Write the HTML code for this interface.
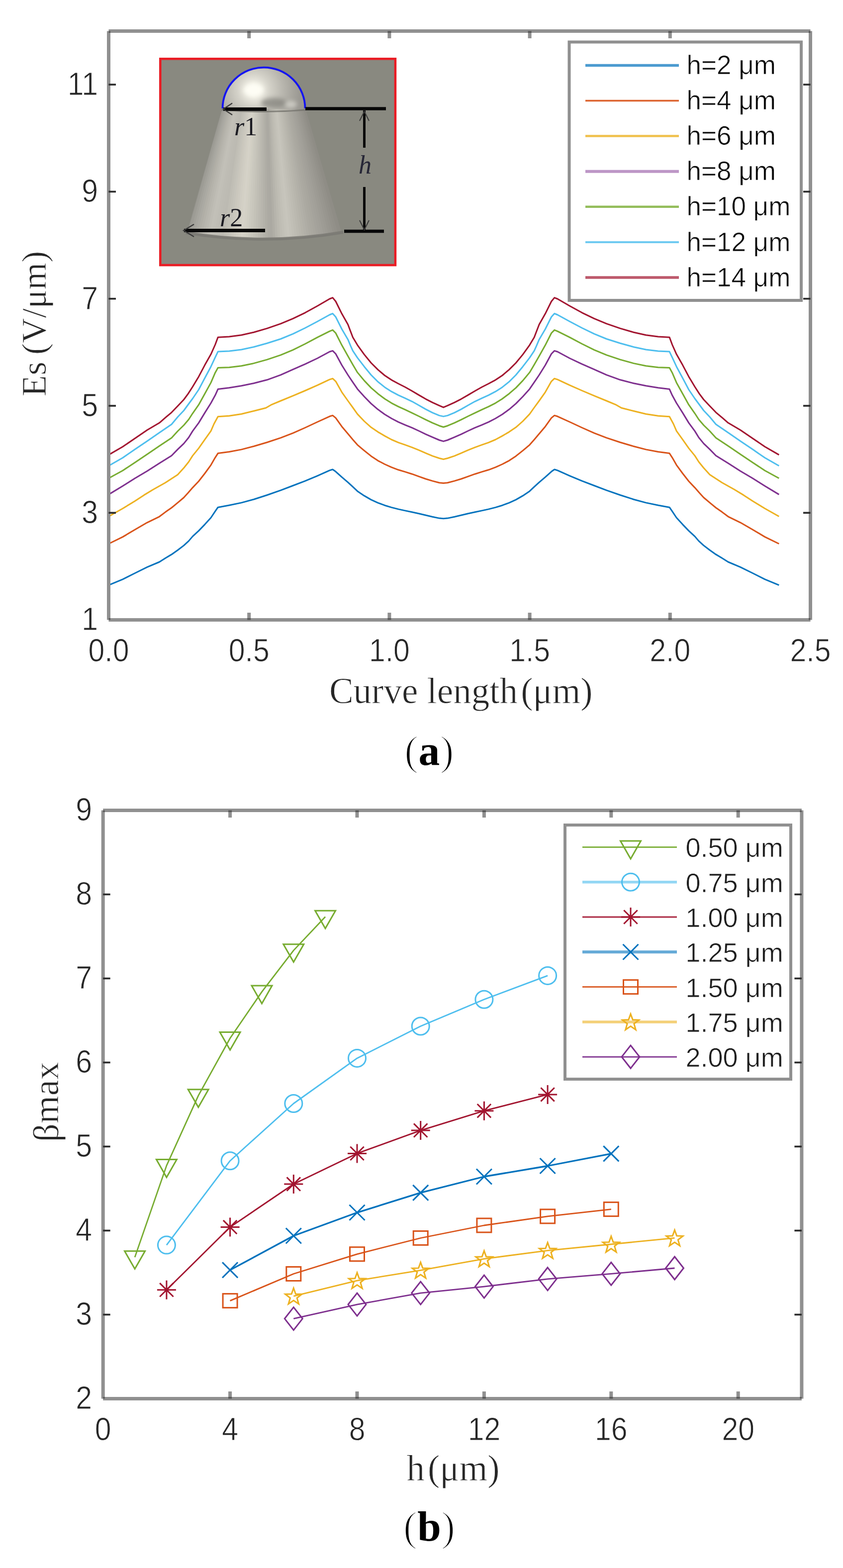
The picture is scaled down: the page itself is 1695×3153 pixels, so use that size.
<!DOCTYPE html>
<html><head><meta charset="utf-8"><title>Figure</title>
<style>html,body{margin:0;padding:0;background:#fff;overflow:hidden;}svg{display:block;}</style>
</head><body>
<svg width="1695" height="3153" viewBox="0 0 1695 3153">
<defs>
<clipPath id="coneclip"><path d="M446.5,219 L614.5,219 L692,466 Q532,492 372,466 Z"/></clipPath>
<filter id="blur3" x="-50%" y="-50%" width="200%" height="200%"><feGaussianBlur stdDeviation="4"/></filter>
<radialGradient id="domeg" cx="510" cy="181" r="95" gradientUnits="userSpaceOnUse">
<stop offset="0" stop-color="#fdfcf4"/>
<stop offset="0.14" stop-color="#f0eee4"/>
<stop offset="0.35" stop-color="#d3d1c8"/>
<stop offset="0.6" stop-color="#bab8b0"/>
<stop offset="0.85" stop-color="#a5a39c"/>
<stop offset="1" stop-color="#9a9892"/>
</radialGradient>
</defs>
<rect width="1695" height="3153" fill="#fff"/>
<rect x="322.3" y="118.3" width="472.6" height="414.8" fill="#898980" stroke="#ea1c24" stroke-width="4.6"/>
<g clip-path="url(#coneclip)">
<path d="M446.5,219 L450.7,219 L379,486 L371,486 Z" fill="#989790"/>
<path d="M447.6,219 L453.3,219 L384,486 L373,486 Z" fill="#9d9c95"/>
<path d="M450.2,219 L455.9,219 L389.1,486 L378,486 Z" fill="#a2a19a"/>
<path d="M452.8,219 L458.6,219 L394.1,486 L383,486 Z" fill="#a7a69f"/>
<path d="M455.4,219 L461.2,219 L399.1,486 L388.1,486 Z" fill="#abaaa3"/>
<path d="M458.1,219 L463.8,219 L404.1,486 L393.1,486 Z" fill="#b0aea6"/>
<path d="M460.7,219 L466.4,219 L409.1,486 L398.1,486 Z" fill="#b4b2aa"/>
<path d="M463.3,219 L469.1,219 L414.1,486 L403.1,486 Z" fill="#b8b6ae"/>
<path d="M465.9,219 L471.7,219 L419.1,486 L408.1,486 Z" fill="#bbb9b1"/>
<path d="M468.6,219 L474.3,219 L424.2,486 L413.1,486 Z" fill="#bfbdb5"/>
<path d="M471.2,219 L476.9,219 L429.2,486 L418.1,486 Z" fill="#c2c0b8"/>
<path d="M473.8,219 L479.6,219 L434.2,486 L423.2,486 Z" fill="#c1bfb7"/>
<path d="M476.4,219 L482.2,219 L439.2,486 L428.2,486 Z" fill="#bfbdb5"/>
<path d="M479.1,219 L484.8,219 L444.2,486 L433.2,486 Z" fill="#bebcb4"/>
<path d="M481.7,219 L487.4,219 L449.2,486 L438.2,486 Z" fill="#bdbbb3"/>
<path d="M484.3,219 L490.1,219 L454.3,486 L443.2,486 Z" fill="#bcbab2"/>
<path d="M486.9,219 L492.7,219 L459.3,486 L448.2,486 Z" fill="#c0beb5"/>
<path d="M489.6,219 L495.3,219 L464.3,486 L453.3,486 Z" fill="#c3c1b8"/>
<path d="M492.2,219 L497.9,219 L469.3,486 L458.3,486 Z" fill="#c6c4bb"/>
<path d="M494.8,219 L500.6,219 L474.3,486 L463.3,486 Z" fill="#cac7bd"/>
<path d="M497.4,219 L503.2,219 L479.3,486 L468.3,486 Z" fill="#cdcac0"/>
<path d="M500.1,219 L505.8,219 L484.4,486 L473.3,486 Z" fill="#d0cdc3"/>
<path d="M502.7,219 L508.4,219 L489.4,486 L478.3,486 Z" fill="#d3d0c5"/>
<path d="M505.3,219 L511.1,219 L494.4,486 L483.4,486 Z" fill="#d5d2c8"/>
<path d="M507.9,219 L513.7,219 L499.4,486 L488.4,486 Z" fill="#d3d0c5"/>
<path d="M510.6,219 L516.3,219 L504.4,486 L493.4,486 Z" fill="#cfcdc2"/>
<path d="M513.2,219 L519,219 L509.4,486 L498.4,486 Z" fill="#cbc9bf"/>
<path d="M515.8,219 L521.6,219 L514.4,486 L503.4,486 Z" fill="#c8c6bc"/>
<path d="M518.4,219 L524.2,219 L519.5,486 L508.4,486 Z" fill="#c4c2b8"/>
<path d="M521,219 L526.8,219 L524.5,486 L513.4,486 Z" fill="#c0beb5"/>
<path d="M523.7,219 L529.5,219 L529.5,486 L518.5,486 Z" fill="#bcbab1"/>
<path d="M526.3,219 L532.1,219 L534.5,486 L523.5,486 Z" fill="#b8b6ae"/>
<path d="M528.9,219 L534.7,219 L539.5,486 L528.5,486 Z" fill="#b4b2aa"/>
<path d="M531.5,219 L537.3,219 L544.5,486 L533.5,486 Z" fill="#b0aea6"/>
<path d="M534.2,219 L540,219 L549.6,486 L538.5,486 Z" fill="#acaaa3"/>
<path d="M536.8,219 L542.6,219 L554.6,486 L543.5,486 Z" fill="#aba9a2"/>
<path d="M539.4,219 L545.2,219 L559.6,486 L548.6,486 Z" fill="#b0aea6"/>
<path d="M542,219 L547.8,219 L564.6,486 L553.6,486 Z" fill="#b6b4ac"/>
<path d="M544.7,219 L550.5,219 L569.6,486 L558.6,486 Z" fill="#bbb9b0"/>
<path d="M547.3,219 L553.1,219 L574.6,486 L563.6,486 Z" fill="#bfbdb4"/>
<path d="M549.9,219 L555.7,219 L579.6,486 L568.6,486 Z" fill="#c2c0b7"/>
<path d="M552.5,219 L558.3,219 L584.7,486 L573.6,486 Z" fill="#c5c3ba"/>
<path d="M555.2,219 L561,219 L589.7,486 L578.6,486 Z" fill="#c7c5bc"/>
<path d="M557.8,219 L563.6,219 L594.7,486 L583.7,486 Z" fill="#c4c2b9"/>
<path d="M560.4,219 L566.2,219 L599.7,486 L588.7,486 Z" fill="#c1bfb6"/>
<path d="M563,219 L568.8,219 L604.7,486 L593.7,486 Z" fill="#bebcb3"/>
<path d="M565.7,219 L571.5,219 L609.7,486 L598.7,486 Z" fill="#bbb9b0"/>
<path d="M568.3,219 L574.1,219 L614.8,486 L603.7,486 Z" fill="#b8b6ad"/>
<path d="M570.9,219 L576.7,219 L619.8,486 L608.7,486 Z" fill="#b5b3aa"/>
<path d="M573.5,219 L579.3,219 L624.8,486 L613.8,486 Z" fill="#b2b0a8"/>
<path d="M576.2,219 L582,219 L629.8,486 L618.8,486 Z" fill="#afada5"/>
<path d="M578.8,219 L584.6,219 L634.8,486 L623.8,486 Z" fill="#acaaa2"/>
<path d="M581.4,219 L587.2,219 L639.8,486 L628.8,486 Z" fill="#aaa8a0"/>
<path d="M584,219 L589.8,219 L644.9,486 L633.8,486 Z" fill="#a8a69e"/>
<path d="M586.7,219 L592.5,219 L649.9,486 L638.8,486 Z" fill="#a5a39c"/>
<path d="M589.3,219 L595.1,219 L654.9,486 L643.8,486 Z" fill="#a3a19a"/>
<path d="M591.9,219 L597.7,219 L659.9,486 L648.9,486 Z" fill="#a19f98"/>
<path d="M594.5,219 L600.3,219 L664.9,486 L653.9,486 Z" fill="#9e9c95"/>
<path d="M597.2,219 L603,219 L669.9,486 L658.9,486 Z" fill="#9c9a93"/>
<path d="M599.8,219 L605.6,219 L674.9,486 L663.9,486 Z" fill="#999790"/>
<path d="M602.4,219 L608.2,219 L680,486 L668.9,486 Z" fill="#97958e"/>
<path d="M605,219 L610.8,219 L685,486 L673.9,486 Z" fill="#94928b"/>
<path d="M607.7,219 L613.5,219 L690,486 L679,486 Z" fill="#929089"/>
<path d="M610.3,219 L614.5,219 L692,486 L684,486 Z" fill="#8f8d86"/>
</g>
<path d="M374,468 Q532,494 690,467" fill="none" stroke="#7a7973" stroke-width="6" opacity="0.85"/>
<path d="M446,221 Q530,228 615,221" fill="none" stroke="#74736d" stroke-width="3" opacity="0.8"/>
<path d="M446.5,219 A84,82.5 0 0 1 614.5,219 Z" fill="url(#domeg)"/>
<ellipse cx="551" cy="207" rx="26" ry="10" fill="#85847e" opacity="0.75" filter="url(#blur3)"/>
<ellipse cx="585" cy="210" rx="12" ry="7" fill="#dcdad3" opacity="0.7" filter="url(#blur3)"/>
<ellipse cx="510" cy="181" rx="20" ry="13" fill="#fffef6" opacity="0.9" filter="url(#blur3)"/>
<path d="M447.5,218 A83,82.5 0 0 1 613.5,218" fill="none" stroke="#1414f2" stroke-width="3.8"/>
<line x1="614" y1="218.5" x2="776" y2="218.5" stroke="#080808" stroke-width="6.5"/>
<line x1="692" y1="465" x2="772" y2="465" stroke="#080808" stroke-width="6.5"/>
<line x1="449" y1="219.5" x2="536" y2="219.5" stroke="#080808" stroke-width="7"/>
<path d="M467,207.5 L449,219.3 L467,231" fill="none" stroke="#3a3a3a" stroke-width="2.2"/>
<line x1="370" y1="463.5" x2="533" y2="463.5" stroke="#080808" stroke-width="7"/>
<path d="M390,451 L369,463.5 L390,476" fill="none" stroke="#3a3a3a" stroke-width="2.2"/>
<line x1="732.5" y1="222" x2="732.5" y2="297" stroke="#080808" stroke-width="5"/>
<line x1="732.5" y1="376" x2="732.5" y2="462" stroke="#080808" stroke-width="5"/>
<path d="M723,243 L732.5,224 L742,243" fill="none" stroke="#3a3a3a" stroke-width="2"/>
<path d="M723,443 L732.5,462 L742,443" fill="none" stroke="#3a3a3a" stroke-width="2"/>
<text x="471" y="271.5" font-family="'Liberation Serif', 'Times New Roman', serif" font-size="52" fill="#1b1b22"><tspan font-style="italic">r</tspan>1</text>
<text x="442" y="455" font-family="'Liberation Serif', 'Times New Roman', serif" font-size="52" fill="#1b1b22"><tspan font-style="italic">r</tspan>2</text>
<text x="721" y="348.5" font-family="'Liberation Serif', 'Times New Roman', serif" font-style="italic" font-size="52" fill="#262636">h</text>
<polyline points="218.5,1176.6 246.8,1164.9 271.4,1152.5 295.9,1140.3 320.5,1130 332.7,1122.3 345,1114.9 357.3,1106.3 369.6,1096.9 379.4,1087.9 387.3,1078.6 399.5,1067.4 411.8,1054.6 424.1,1041 432.7,1028.2 438.2,1020.2 460.9,1016 485.5,1010.9 510,1004.2 537,995.5 564.5,985.8 589.1,976.5 613.6,967.1 638.2,956.8 662.7,945.9 668.9,944 675,948.3 687.3,959.4 699.6,969.8 709.4,978.9 718.7,987.7 732.4,996.9 746.2,1004.9 759.9,1011.1 773.6,1016.2 787.3,1020.4 801,1023.9 814.8,1026.9 828.5,1029.8 842.2,1032.7 855.9,1036 869.6,1039.2 883.4,1042.1 891.6,1042.8 899.8,1042.1 913.7,1039.2 927.4,1036 941.1,1032.7 954.9,1029.8 968.6,1026.9 982.4,1023.9 996.2,1020.4 1009.9,1016.2 1023.6,1011.1 1037.3,1004.9 1051.2,996.9 1064.9,987.7 1074.2,978.9 1084.1,969.8 1096.4,959.4 1108.7,948.3 1114.8,944 1121,945.9 1145.6,956.8 1170.3,967.1 1194.8,976.5 1219.5,985.8 1247.1,995.5 1274.1,1004.2 1298.7,1010.9 1323.3,1016 1346.1,1020.2 1351.6,1028.2 1360.2,1041 1372.6,1054.6 1384.9,1067.4 1397.1,1078.6 1405,1087.9 1414.9,1096.9 1427.2,1106.3 1439.5,1114.9 1451.8,1122.3 1464.1,1130 1488.7,1140.3 1513.3,1152.5 1537.9,1164.9 1566.3,1176.6" fill="none" stroke="#0072BD" stroke-width="3" stroke-linejoin="round"/>
<polyline points="218.5,1093.5 246.8,1079.6 271.4,1065 295.9,1050.8 320.5,1038.8 332.7,1029.6 345,1021 357.3,1010.9 369.6,1000.5 378.2,991.1 387.3,980.6 399.5,967.7 411.8,952 424.1,935.1 432.7,920.1 438.2,911.6 460.9,908.5 485.5,903.9 510,897.5 537,889.5 564.5,880.4 589.1,870.9 613.6,860 638.2,848.5 662.7,837.3 668.9,835.4 675,840.3 687.3,857.7 699.6,872.3 709.4,884 718.7,894.6 732.4,906.1 746.2,917.2 759.9,926.3 773.6,933.5 787.3,939.7 801,944.8 814.8,948.9 828.5,953.2 842.2,958.2 855.9,963 869.6,967.1 883.4,970.7 891.6,971.4 899.8,970.7 913.7,967.1 927.4,963 941.1,958.2 954.9,953.2 968.6,948.9 982.4,944.8 996.2,939.7 1009.9,933.5 1023.6,926.3 1037.3,917.2 1051.2,906.1 1064.9,894.6 1074.2,884 1084.1,872.3 1096.4,857.7 1108.7,840.3 1114.8,835.4 1121,837.3 1145.6,848.5 1170.3,860 1194.8,870.9 1219.5,880.4 1247.1,889.5 1274.1,897.5 1298.7,903.9 1323.3,908.5 1346.1,911.6 1351.6,920.1 1360.2,935.1 1372.6,952 1384.9,967.7 1397.1,980.6 1406.2,991.1 1414.9,1000.5 1427.2,1010.9 1439.5,1021 1451.8,1029.6 1464.1,1038.8 1488.7,1050.8 1513.3,1065 1537.9,1079.6 1566.3,1093.5" fill="none" stroke="#D95319" stroke-width="3" stroke-linejoin="round"/>
<polyline points="218.5,1038.5 246.8,1022.5 271.4,1007.5 289.8,995.4 308.2,984.3 332.7,970.5 357.3,954.6 370,940.5 379.4,928.7 387.3,916.4 399.5,901.4 411.8,883.9 424.1,866.7 430.2,852.5 438.2,837.8 460.9,836.3 485.5,832.5 510,826.5 534.6,820.3 545,814.2 564.5,806 589.1,795.9 613.6,785.5 638.2,774.7 662.7,763.1 668.9,761.2 675,766.8 687.3,788.6 699.6,806 709.4,819.5 718.7,832.6 732.4,847 746.2,859.3 759.9,868.6 773.6,876.6 787.3,884 801,889.8 814.8,894.7 828.5,899.6 842.2,905.1 855.9,911.1 869.6,916.8 883.4,921.5 891.6,923.5 899.8,921.5 913.7,916.8 927.4,911.1 941.1,905.1 954.9,899.6 968.6,894.7 982.4,889.8 996.2,884 1009.9,876.6 1023.6,868.6 1037.3,859.3 1051.2,847 1064.9,832.6 1074.2,819.5 1084.1,806 1096.4,788.6 1108.7,766.8 1114.8,761.2 1121,763.1 1145.6,774.7 1170.3,785.5 1194.8,795.9 1219.5,806 1239,814.2 1249.5,820.3 1274.1,826.5 1298.7,832.5 1323.3,836.3 1346.1,837.8 1354.1,852.5 1360.2,866.7 1372.6,883.9 1384.9,901.4 1397.1,916.4 1405,928.7 1414.5,940.5 1427.2,954.6 1451.8,970.5 1476.4,984.3 1494.8,995.4 1513.3,1007.5 1537.9,1022.5 1566.3,1038.5" fill="none" stroke="#EDB120" stroke-width="3" stroke-linejoin="round"/>
<polyline points="218.5,994.4 246.8,977.2 271.4,961.7 295.9,947.3 320.5,931.6 345,916.2 357.3,903.6 369.6,891.9 379.4,879.8 387.3,866.9 399.5,850.4 411.8,830.1 424.1,810.5 432.7,794.8 438.2,782.6 460.9,779.7 485.5,775.8 510,770.8 537,763.8 564.5,753.9 589.1,742.8 613.6,732.1 638.2,720.5 662.7,707.2 668.9,705.4 675,711.5 687.3,734.3 699.6,754 709.4,768.7 718.7,782.2 732.4,797.5 746.2,811.6 759.9,823.3 773.6,833.2 787.3,841.5 801,848.6 814.8,854.6 828.5,860.2 842.2,866.5 855.9,873.1 869.6,879.2 883.4,885 891.6,887.4 899.8,885 913.7,879.2 927.4,873.1 941.1,866.5 954.9,860.2 968.6,854.6 982.4,848.6 996.2,841.5 1009.9,833.2 1023.6,823.3 1037.3,811.6 1051.2,797.5 1064.9,782.2 1074.2,768.7 1084.1,754 1096.4,734.3 1108.7,711.5 1114.8,705.4 1121,707.2 1145.6,720.5 1170.3,732.1 1194.8,742.8 1219.5,753.9 1247.1,763.8 1274.1,770.8 1298.7,775.8 1323.3,779.7 1346.1,782.6 1351.6,794.8 1360.2,810.5 1372.6,830.1 1384.9,850.4 1397.1,866.9 1405,879.8 1414.9,891.9 1427.2,903.6 1439.5,916.2 1464.1,931.6 1488.7,947.3 1513.3,961.7 1537.9,977.2 1566.3,994.4" fill="none" stroke="#7E2F8E" stroke-width="3" stroke-linejoin="round"/>
<polyline points="218.5,961.8 246.8,946.3 271.4,929.9 295.9,913.5 320.5,896.7 345,880.4 357.3,867 369.6,855 379.4,843.5 387.3,831.3 399.5,813.9 411.8,791.8 424.1,769.4 432.7,749.4 438.2,739.6 460.9,738.7 485.5,735.8 510,730.6 537,723.1 564.5,713.9 589.1,703.6 613.6,691.5 638.2,678.4 662.7,666.1 668.9,663.6 675,669.8 687.3,694.1 699.6,716 709.4,733.2 718.7,748.9 732.4,765.4 746.2,779.9 759.9,791.7 773.6,802 787.3,810.6 801,817.6 814.8,823.9 828.5,830.3 842.2,837 855.9,843.8 869.6,850.3 883.4,856.2 891.6,858.8 899.8,856.2 913.7,850.3 927.4,843.8 941.1,837 954.9,830.3 968.6,823.9 982.4,817.6 996.2,810.6 1009.9,802 1023.6,791.7 1037.3,779.9 1051.2,765.4 1064.9,748.9 1074.2,733.2 1084.1,716 1096.4,694.1 1108.7,669.8 1114.8,663.6 1121,666.1 1145.6,678.4 1170.3,691.5 1194.8,703.6 1219.5,713.9 1247.1,723.1 1274.1,730.6 1298.7,735.8 1323.3,738.7 1346.1,739.6 1351.6,749.4 1360.2,769.4 1372.6,791.8 1384.9,813.9 1397.1,831.3 1405,843.5 1414.9,855 1427.2,867 1439.5,880.4 1464.1,896.7 1488.7,913.5 1513.3,929.9 1537.9,946.3 1566.3,961.8" fill="none" stroke="#77AC30" stroke-width="3" stroke-linejoin="round"/>
<polyline points="218.5,936.7 246.8,920.5 271.4,903.6 295.9,886.9 320.5,870 345,853.2 357.3,838.5 369.6,825.5 378,814 387.3,801.5 399.5,783.5 411.8,760.2 424.1,737.2 432.7,718.7 438.2,707.1 460.9,705.9 485.5,703 510,697.7 537,690.2 564.5,681.5 589.1,671.3 613.6,659.5 638.2,646.5 662.7,633 668.9,630.5 675,637.3 687.3,661.7 699.6,682.7 705,695.7 709.4,705.4 718.7,719.4 732.4,737.2 746.2,754 759.9,767.7 773.6,778.7 787.3,787.4 801,794.6 814.8,800.8 828.5,807.3 842.2,815 855.9,822.9 869.6,829.8 883.4,835.6 891.6,837.4 899.8,835.6 913.7,829.8 927.4,822.9 941.1,815 954.9,807.3 968.6,800.8 982.4,794.6 996.2,787.4 1009.9,778.7 1023.6,767.7 1037.3,754 1051.2,737.2 1064.9,719.4 1074.2,705.4 1078.6,695.7 1084.1,682.7 1096.4,661.7 1108.7,637.3 1114.8,630.5 1121,633 1145.6,646.5 1170.3,659.5 1194.8,671.3 1219.5,681.5 1247.1,690.2 1274.1,697.7 1298.7,703 1323.3,705.9 1346.1,707.1 1351.6,718.7 1360.2,737.2 1372.6,760.2 1384.9,783.5 1397.1,801.5 1406.4,814 1414.9,825.5 1427.2,838.5 1439.5,853.2 1464.1,870 1488.7,886.9 1513.3,903.6 1537.9,920.5 1566.3,936.7" fill="none" stroke="#4DBEEE" stroke-width="3" stroke-linejoin="round"/>
<polyline points="218.5,914.6 246.8,898.3 271.4,881.5 295.9,864.7 320.5,850.3 332.7,839.7 345,829.3 357.3,816.5 369.6,803.5 378.2,791.9 387.3,777.7 399.5,757.4 411.8,734.1 424.1,712.3 432.7,693 438.2,678.2 460.9,677 485.5,673.8 510,668.2 537,660.4 564.5,650.8 589.1,640.7 613.6,628.8 638.2,615.2 662.7,601 668.9,598.6 675,606 687.3,630.8 699.6,652.5 705,666.8 709.4,678.2 718.7,693.8 732.4,712.9 746.2,729.7 759.9,743.4 773.6,755 787.3,764.1 801,771.5 814.8,778.5 828.5,786.2 842.2,794.4 855.9,802.3 869.6,809.3 883.4,815.7 891.6,819.2 899.8,815.7 913.7,809.3 927.4,802.3 941.1,794.4 954.9,786.2 968.6,778.5 982.4,771.5 996.2,764.1 1009.9,755 1023.6,743.4 1037.3,729.7 1051.2,712.9 1064.9,693.8 1074.2,678.2 1078.6,666.8 1084.1,652.5 1096.4,630.8 1108.7,606 1114.8,598.6 1121,601 1145.6,615.2 1170.3,628.8 1194.8,640.7 1219.5,650.8 1247.1,660.4 1274.1,668.2 1298.7,673.8 1323.3,677 1346.1,678.2 1351.6,693 1360.2,712.3 1372.6,734.1 1384.9,757.4 1397.1,777.7 1406.2,791.9 1414.9,803.5 1427.2,816.5 1439.5,829.3 1451.8,839.7 1464.1,850.3 1488.7,864.7 1513.3,881.5 1537.9,898.3 1566.3,914.6" fill="none" stroke="#A2142F" stroke-width="3" stroke-linejoin="round"/>
<path d="M218.5,62.5 V1246.5 M1629.5,62.5 V1246.5 M218.5,62.5 H1629.5 M218.5,1246.5 H1629.5" stroke="#909090" stroke-width="7" fill="none"/>
<rect x="218.5" y="62.5" width="3.5" height="3.5" fill="#575757"/>
<rect x="1626" y="62.5" width="3.5" height="3.5" fill="#575757"/>
<rect x="218.5" y="1243" width="3.5" height="3.5" fill="#575757"/>
<rect x="1626" y="1243" width="3.5" height="3.5" fill="#575757"/>
<rect x="497.2" y="1232" width="7" height="11" fill="#909090"/>
<rect x="497.2" y="1243" width="7" height="3.5" fill="#575757"/>
<rect x="497.2" y="66" width="7" height="11" fill="#909090"/>
<rect x="497.2" y="62.5" width="7" height="3.5" fill="#575757"/>
<rect x="779.4" y="1232" width="7" height="11" fill="#909090"/>
<rect x="779.4" y="1243" width="7" height="3.5" fill="#575757"/>
<rect x="779.4" y="66" width="7" height="11" fill="#909090"/>
<rect x="779.4" y="62.5" width="7" height="3.5" fill="#575757"/>
<rect x="1061.6" y="1232" width="7" height="11" fill="#909090"/>
<rect x="1061.6" y="1243" width="7" height="3.5" fill="#575757"/>
<rect x="1061.6" y="66" width="7" height="11" fill="#909090"/>
<rect x="1061.6" y="62.5" width="7" height="3.5" fill="#575757"/>
<rect x="1343.8" y="1232" width="7" height="11" fill="#909090"/>
<rect x="1343.8" y="1243" width="7" height="3.5" fill="#575757"/>
<rect x="1343.8" y="66" width="7" height="11" fill="#909090"/>
<rect x="1343.8" y="62.5" width="7" height="3.5" fill="#575757"/>
<rect x="218.5" y="1029.4" width="14.5" height="3.6" fill="#2b2b2b"/>
<rect x="1615" y="1029.4" width="14.5" height="3.6" fill="#2b2b2b"/>
<rect x="218.5" y="814.2" width="14.5" height="3.6" fill="#2b2b2b"/>
<rect x="1615" y="814.2" width="14.5" height="3.6" fill="#2b2b2b"/>
<rect x="218.5" y="598.9" width="14.5" height="3.6" fill="#2b2b2b"/>
<rect x="1615" y="598.9" width="14.5" height="3.6" fill="#2b2b2b"/>
<rect x="218.5" y="383.6" width="14.5" height="3.6" fill="#2b2b2b"/>
<rect x="1615" y="383.6" width="14.5" height="3.6" fill="#2b2b2b"/>
<rect x="218.5" y="168.3" width="14.5" height="3.6" fill="#2b2b2b"/>
<rect x="1615" y="168.3" width="14.5" height="3.6" fill="#2b2b2b"/>
<text transform="translate(197,1267.3) scale(0.95,1.03)" text-anchor="end" font-family="'Liberation Sans', Arial, Helvetica, sans-serif" font-size="62" fill="#262626" stroke="#fff" stroke-width="0.9">1</text>
<text transform="translate(197,1052) scale(0.95,1.03)" text-anchor="end" font-family="'Liberation Sans', Arial, Helvetica, sans-serif" font-size="62" fill="#262626" stroke="#fff" stroke-width="0.9">3</text>
<text transform="translate(197,836.8) scale(0.95,1.03)" text-anchor="end" font-family="'Liberation Sans', Arial, Helvetica, sans-serif" font-size="62" fill="#262626" stroke="#fff" stroke-width="0.9">5</text>
<text transform="translate(197,621.5) scale(0.95,1.03)" text-anchor="end" font-family="'Liberation Sans', Arial, Helvetica, sans-serif" font-size="62" fill="#262626" stroke="#fff" stroke-width="0.9">7</text>
<text transform="translate(197,406.2) scale(0.95,1.03)" text-anchor="end" font-family="'Liberation Sans', Arial, Helvetica, sans-serif" font-size="62" fill="#262626" stroke="#fff" stroke-width="0.9">9</text>
<text transform="translate(197,190.9) scale(0.95,1.03)" text-anchor="end" font-family="'Liberation Sans', Arial, Helvetica, sans-serif" font-size="62" fill="#262626" stroke="#fff" stroke-width="0.9">11</text>
<text transform="translate(218.5,1330.3) scale(0.95,1.03)" text-anchor="middle" font-family="'Liberation Sans', Arial, Helvetica, sans-serif" font-size="62" fill="#262626" stroke="#fff" stroke-width="0.9">0.0</text>
<text transform="translate(500.7,1330.3) scale(0.95,1.03)" text-anchor="middle" font-family="'Liberation Sans', Arial, Helvetica, sans-serif" font-size="62" fill="#262626" stroke="#fff" stroke-width="0.9">0.5</text>
<text transform="translate(782.9,1330.3) scale(0.95,1.03)" text-anchor="middle" font-family="'Liberation Sans', Arial, Helvetica, sans-serif" font-size="62" fill="#262626" stroke="#fff" stroke-width="0.9">1.0</text>
<text transform="translate(1065.1,1330.3) scale(0.95,1.03)" text-anchor="middle" font-family="'Liberation Sans', Arial, Helvetica, sans-serif" font-size="62" fill="#262626" stroke="#fff" stroke-width="0.9">1.5</text>
<text transform="translate(1347.3,1330.3) scale(0.95,1.03)" text-anchor="middle" font-family="'Liberation Sans', Arial, Helvetica, sans-serif" font-size="62" fill="#262626" stroke="#fff" stroke-width="0.9">2.0</text>
<text transform="translate(1629.5,1330.3) scale(0.95,1.03)" text-anchor="middle" font-family="'Liberation Sans', Arial, Helvetica, sans-serif" font-size="62" fill="#262626" stroke="#fff" stroke-width="0.9">2.5</text>
<text transform="translate(926.8,1414)" text-anchor="middle" font-family="'Liberation Serif', 'Times New Roman', serif" font-size="73" fill="#262626" stroke="#fff" stroke-width="0.9">Curve length (μm)</text>
<text transform="translate(91.5,651) rotate(-90)" text-anchor="middle" font-family="'Liberation Serif', 'Times New Roman', serif" font-size="70" fill="#262626" stroke="#fff" stroke-width="0.9">Es (V/μm)</text>
<rect x="1144.5" y="84.5" width="466.5" height="519.5" fill="#fff" stroke="#909090" stroke-width="6"/>
<line x1="1177" y1="131.4" x2="1365" y2="131.4" stroke="#0072BD" stroke-width="5.5" opacity="0.7"/>
<text transform="translate(1380.5,149)" text-anchor="start" font-family="'Liberation Sans', Arial, Helvetica, sans-serif" font-size="53" fill="#0a0a0a" stroke="#fff" stroke-width="0.7">h=2 μm</text>
<line x1="1177" y1="202.5" x2="1365" y2="202.5" stroke="#D95319" stroke-width="3.5" opacity="0.9"/>
<text transform="translate(1380.5,220.1)" text-anchor="start" font-family="'Liberation Sans', Arial, Helvetica, sans-serif" font-size="53" fill="#0a0a0a" stroke="#fff" stroke-width="0.7">h=4 μm</text>
<line x1="1177" y1="273.6" x2="1365" y2="273.6" stroke="#EDB120" stroke-width="4.5" opacity="0.8"/>
<text transform="translate(1380.5,291.2)" text-anchor="start" font-family="'Liberation Sans', Arial, Helvetica, sans-serif" font-size="53" fill="#0a0a0a" stroke="#fff" stroke-width="0.7">h=6 μm</text>
<line x1="1177" y1="344.7" x2="1365" y2="344.7" stroke="#7E2F8E" stroke-width="6" opacity="0.5"/>
<text transform="translate(1380.5,362.3)" text-anchor="start" font-family="'Liberation Sans', Arial, Helvetica, sans-serif" font-size="53" fill="#0a0a0a" stroke="#fff" stroke-width="0.7">h=8 μm</text>
<line x1="1177" y1="415.8" x2="1365" y2="415.8" stroke="#77AC30" stroke-width="4.5" opacity="0.8"/>
<text transform="translate(1380.5,433.4)" text-anchor="start" font-family="'Liberation Sans', Arial, Helvetica, sans-serif" font-size="53" fill="#0a0a0a" stroke="#fff" stroke-width="0.7">h=10 μm</text>
<line x1="1177" y1="486.9" x2="1365" y2="486.9" stroke="#4DBEEE" stroke-width="4" opacity="0.8"/>
<text transform="translate(1380.5,504.5)" text-anchor="start" font-family="'Liberation Sans', Arial, Helvetica, sans-serif" font-size="53" fill="#0a0a0a" stroke="#fff" stroke-width="0.7">h=12 μm</text>
<line x1="1177" y1="558" x2="1365" y2="558" stroke="#A2142F" stroke-width="5.5" opacity="0.7"/>
<text transform="translate(1380.5,575.6)" text-anchor="start" font-family="'Liberation Sans', Arial, Helvetica, sans-serif" font-size="53" fill="#0a0a0a" stroke="#fff" stroke-width="0.7">h=14 μm</text>
<text x="862.9" y="1538" text-anchor="middle" font-family="'Liberation Serif', 'Times New Roman', serif" font-size="85.5" fill="#000"><tspan stroke="#fff" stroke-width="2.6">(</tspan><tspan font-weight="bold">a</tspan><tspan stroke="#fff" stroke-width="2.6">)</tspan></text>
<polyline points="271.1,2528.1 334.9,2343.9 398.8,2203.1 462.6,2087.8 526.5,1994.4 590.3,1911.1 654.1,1843.5" fill="none" stroke="#77AC30" stroke-width="2.8" stroke-linejoin="round"/>
<path d="M250.6,2515.8 L291.6,2515.8 L271.1,2551.6 Z" fill="none" stroke="#77AC30" stroke-width="3"/>
<path d="M314.4,2331.6 L355.4,2331.6 L334.9,2367.4 Z" fill="none" stroke="#77AC30" stroke-width="3"/>
<path d="M378.2,2190.8 L419.2,2190.8 L398.8,2226.6 Z" fill="none" stroke="#77AC30" stroke-width="3"/>
<path d="M442.1,2075.5 L483.1,2075.5 L462.6,2111.3 Z" fill="none" stroke="#77AC30" stroke-width="3"/>
<path d="M506,1982.1 L547,1982.1 L526.5,2017.9 Z" fill="none" stroke="#77AC30" stroke-width="3"/>
<path d="M569.8,1898.8 L610.8,1898.8 L590.3,1934.6 Z" fill="none" stroke="#77AC30" stroke-width="3"/>
<path d="M633.6,1831.2 L674.6,1831.2 L654.1,1867 Z" fill="none" stroke="#77AC30" stroke-width="3"/>
<polyline points="334.9,2503.6 462.6,2334.2 590.3,2219 718,2127.9 845.7,2063.5 973.4,2009.8 1101.1,1961.9" fill="none" stroke="#4DBEEE" stroke-width="2.8" stroke-linejoin="round"/>
<circle cx="334.9" cy="2503.6" r="17.5" fill="none" stroke="#4DBEEE" stroke-width="3"/>
<circle cx="462.6" cy="2334.2" r="17.5" fill="none" stroke="#4DBEEE" stroke-width="3"/>
<circle cx="590.3" cy="2219" r="17.5" fill="none" stroke="#4DBEEE" stroke-width="3"/>
<circle cx="718" cy="2127.9" r="17.5" fill="none" stroke="#4DBEEE" stroke-width="3"/>
<circle cx="845.7" cy="2063.5" r="17.5" fill="none" stroke="#4DBEEE" stroke-width="3"/>
<circle cx="973.4" cy="2009.8" r="17.5" fill="none" stroke="#4DBEEE" stroke-width="3"/>
<circle cx="1101.1" cy="1961.9" r="17.5" fill="none" stroke="#4DBEEE" stroke-width="3"/>
<polyline points="334.9,2593.8 462.6,2467.6 590.3,2381 718,2319.4 845.7,2273.1 973.4,2233.7 1101.1,2200.9" fill="none" stroke="#A2142F" stroke-width="2.8" stroke-linejoin="round"/>
<path d="M334.9,2574.8 V2612.8 M315.9,2593.8 H353.9 M321.2,2580.1 L348.6,2607.5 M321.2,2607.5 L348.6,2580.1" stroke="#A2142F" stroke-width="3" fill="none"/>
<path d="M462.6,2448.6 V2486.6 M443.6,2467.6 H481.6 M448.9,2453.9 L476.3,2481.3 M448.9,2481.3 L476.3,2453.9" stroke="#A2142F" stroke-width="3" fill="none"/>
<path d="M590.3,2362 V2400 M571.3,2381 H609.3 M576.6,2367.4 L604,2394.7 M576.6,2394.7 L604,2367.4" stroke="#A2142F" stroke-width="3" fill="none"/>
<path d="M718,2300.4 V2338.4 M699,2319.4 H737 M704.3,2305.7 L731.7,2333 M704.3,2333 L731.7,2305.7" stroke="#A2142F" stroke-width="3" fill="none"/>
<path d="M845.7,2254.1 V2292.1 M826.7,2273.1 H864.7 M832,2259.4 L859.4,2286.7 M832,2286.7 L859.4,2259.4" stroke="#A2142F" stroke-width="3" fill="none"/>
<path d="M973.4,2214.7 V2252.7 M954.4,2233.7 H992.4 M959.7,2220 L987.1,2247.4 M959.7,2247.4 L987.1,2220" stroke="#A2142F" stroke-width="3" fill="none"/>
<path d="M1101.1,2181.9 V2219.9 M1082.1,2200.9 H1120.1 M1087.4,2187.2 L1114.8,2214.6 M1087.4,2214.6 L1114.8,2187.2" stroke="#A2142F" stroke-width="3" fill="none"/>
<polyline points="462.6,2553.9 590.3,2485 718,2438.3 845.7,2398.4 973.4,2366 1101.1,2344.5 1228.8,2319.9" fill="none" stroke="#0072BD" stroke-width="3.3" stroke-linejoin="round"/>
<path d="M447.1,2538.4 L478.1,2569.4 M447.1,2569.4 L478.1,2538.4" stroke="#0072BD" stroke-width="3" fill="none"/>
<path d="M574.8,2469.5 L605.8,2500.5 M574.8,2500.5 L605.8,2469.5" stroke="#0072BD" stroke-width="3" fill="none"/>
<path d="M702.5,2422.8 L733.5,2453.8 M702.5,2453.8 L733.5,2422.8" stroke="#0072BD" stroke-width="3" fill="none"/>
<path d="M830.2,2382.9 L861.2,2413.9 M830.2,2413.9 L861.2,2382.9" stroke="#0072BD" stroke-width="3" fill="none"/>
<path d="M957.9,2350.5 L988.9,2381.5 M957.9,2381.5 L988.9,2350.5" stroke="#0072BD" stroke-width="3" fill="none"/>
<path d="M1085.6,2329 L1116.6,2360 M1085.6,2360 L1116.6,2329" stroke="#0072BD" stroke-width="3" fill="none"/>
<path d="M1213.3,2304.4 L1244.3,2335.4 M1213.3,2335.4 L1244.3,2304.4" stroke="#0072BD" stroke-width="3" fill="none"/>
<polyline points="462.6,2615.6 590.3,2561.5 718,2521.8 845.7,2489.5 973.4,2464 1101.1,2445.9 1228.8,2431.6" fill="none" stroke="#D95319" stroke-width="2.8" stroke-linejoin="round"/>
<rect x="448.1" y="2601.6" width="29" height="28" fill="none" stroke="#D95319" stroke-width="3"/>
<rect x="575.8" y="2547.5" width="29" height="28" fill="none" stroke="#D95319" stroke-width="3"/>
<rect x="703.5" y="2507.8" width="29" height="28" fill="none" stroke="#D95319" stroke-width="3"/>
<rect x="831.2" y="2475.5" width="29" height="28" fill="none" stroke="#D95319" stroke-width="3"/>
<rect x="958.9" y="2450" width="29" height="28" fill="none" stroke="#D95319" stroke-width="3"/>
<rect x="1086.6" y="2431.9" width="29" height="28" fill="none" stroke="#D95319" stroke-width="3"/>
<rect x="1214.3" y="2417.6" width="29" height="28" fill="none" stroke="#D95319" stroke-width="3"/>
<polyline points="590.3,2606.3 718,2575.1 845.7,2554.3 973.4,2531.3 1101.1,2514.6 1228.8,2502 1356.5,2489.4" fill="none" stroke="#EDB120" stroke-width="2.8" stroke-linejoin="round"/>
<polygon points="590.3,2590.3 594.5,2602 606.9,2602.4 597.1,2610 600.6,2622 590.3,2615 580,2622 583.5,2610 573.7,2602.4 586.1,2602" fill="none" stroke="#EDB120" stroke-width="3"/>
<polygon points="718,2559.1 722.2,2570.7 734.6,2571.1 724.8,2578.8 728.3,2590.7 718,2583.8 707.7,2590.7 711.2,2578.8 701.4,2571.1 713.8,2570.7" fill="none" stroke="#EDB120" stroke-width="3"/>
<polygon points="845.7,2538.3 849.9,2549.9 862.3,2550.4 852.5,2558 856,2569.9 845.7,2563 835.4,2569.9 838.9,2558 829.1,2550.4 841.5,2549.9" fill="none" stroke="#EDB120" stroke-width="3"/>
<polygon points="973.4,2515.3 977.6,2527 990,2527.4 980.2,2535 983.7,2546.9 973.4,2540 963.1,2546.9 966.6,2535 956.8,2527.4 969.2,2527" fill="none" stroke="#EDB120" stroke-width="3"/>
<polygon points="1101.1,2498.6 1105.3,2510.2 1117.7,2510.6 1107.9,2518.3 1111.4,2530.2 1101.1,2523.3 1090.8,2530.2 1094.3,2518.3 1084.5,2510.6 1096.9,2510.2" fill="none" stroke="#EDB120" stroke-width="3"/>
<polygon points="1228.8,2486 1233,2497.7 1245.4,2498.1 1235.6,2505.8 1239.1,2517.7 1228.8,2510.7 1218.5,2517.7 1222,2505.8 1212.2,2498.1 1224.6,2497.7" fill="none" stroke="#EDB120" stroke-width="3"/>
<polygon points="1356.5,2473.4 1360.7,2485 1373.1,2485.5 1363.3,2493.1 1366.8,2505 1356.5,2498.1 1346.2,2505 1349.7,2493.1 1339.9,2485.5 1352.3,2485" fill="none" stroke="#EDB120" stroke-width="3"/>
<polyline points="590.3,2651.6 718,2623.1 845.7,2600.1 973.4,2587.1 1101.1,2571.8 1228.8,2561.4 1356.5,2550" fill="none" stroke="#7E2F8E" stroke-width="2.8" stroke-linejoin="round"/>
<path d="M590.3,2628.6 L608.3,2651.6 L590.3,2674.6 L572.3,2651.6 Z" fill="none" stroke="#7E2F8E" stroke-width="3"/>
<path d="M718,2600.1 L736,2623.1 L718,2646.1 L700,2623.1 Z" fill="none" stroke="#7E2F8E" stroke-width="3"/>
<path d="M845.7,2577.1 L863.7,2600.1 L845.7,2623.1 L827.7,2600.1 Z" fill="none" stroke="#7E2F8E" stroke-width="3"/>
<path d="M973.4,2564.1 L991.4,2587.1 L973.4,2610.1 L955.4,2587.1 Z" fill="none" stroke="#7E2F8E" stroke-width="3"/>
<path d="M1101.1,2548.8 L1119.1,2571.8 L1101.1,2594.8 L1083.1,2571.8 Z" fill="none" stroke="#7E2F8E" stroke-width="3"/>
<path d="M1228.8,2538.4 L1246.8,2561.4 L1228.8,2584.4 L1210.8,2561.4 Z" fill="none" stroke="#7E2F8E" stroke-width="3"/>
<path d="M1356.5,2527 L1374.5,2550 L1356.5,2573 L1338.5,2550 Z" fill="none" stroke="#7E2F8E" stroke-width="3"/>
<path d="M207.2,1629.5 V2812.5 M1611.9,1629.5 V2812.5 M207.2,1629.5 H1611.9 M207.2,2812.5 H1611.9" stroke="#909090" stroke-width="7" fill="none"/>
<rect x="207.2" y="1629.5" width="3.5" height="3.5" fill="#575757"/>
<rect x="1608.4" y="1629.5" width="3.5" height="3.5" fill="#575757"/>
<rect x="207.2" y="2809" width="3.5" height="3.5" fill="#575757"/>
<rect x="1608.4" y="2809" width="3.5" height="3.5" fill="#575757"/>
<rect x="459.1" y="2798" width="7" height="11" fill="#909090"/>
<rect x="459.1" y="2809" width="7" height="3.5" fill="#575757"/>
<rect x="459.1" y="1633" width="7" height="11" fill="#909090"/>
<rect x="459.1" y="1629.5" width="7" height="3.5" fill="#575757"/>
<rect x="714.5" y="2798" width="7" height="11" fill="#909090"/>
<rect x="714.5" y="2809" width="7" height="3.5" fill="#575757"/>
<rect x="714.5" y="1633" width="7" height="11" fill="#909090"/>
<rect x="714.5" y="1629.5" width="7" height="3.5" fill="#575757"/>
<rect x="969.9" y="2798" width="7" height="11" fill="#909090"/>
<rect x="969.9" y="2809" width="7" height="3.5" fill="#575757"/>
<rect x="969.9" y="1633" width="7" height="11" fill="#909090"/>
<rect x="969.9" y="1629.5" width="7" height="3.5" fill="#575757"/>
<rect x="1225.3" y="2798" width="7" height="11" fill="#909090"/>
<rect x="1225.3" y="2809" width="7" height="3.5" fill="#575757"/>
<rect x="1225.3" y="1633" width="7" height="11" fill="#909090"/>
<rect x="1225.3" y="1629.5" width="7" height="3.5" fill="#575757"/>
<rect x="1480.7" y="2798" width="7" height="11" fill="#909090"/>
<rect x="1480.7" y="2809" width="7" height="3.5" fill="#575757"/>
<rect x="1480.7" y="1633" width="7" height="11" fill="#909090"/>
<rect x="1480.7" y="1629.5" width="7" height="3.5" fill="#575757"/>
<rect x="207.2" y="2641.7" width="14.5" height="3.6" fill="#2b2b2b"/>
<rect x="1597.4" y="2641.7" width="14.5" height="3.6" fill="#2b2b2b"/>
<rect x="207.2" y="2472.7" width="14.5" height="3.6" fill="#2b2b2b"/>
<rect x="1597.4" y="2472.7" width="14.5" height="3.6" fill="#2b2b2b"/>
<rect x="207.2" y="2303.7" width="14.5" height="3.6" fill="#2b2b2b"/>
<rect x="1597.4" y="2303.7" width="14.5" height="3.6" fill="#2b2b2b"/>
<rect x="207.2" y="2134.7" width="14.5" height="3.6" fill="#2b2b2b"/>
<rect x="1597.4" y="2134.7" width="14.5" height="3.6" fill="#2b2b2b"/>
<rect x="207.2" y="1965.7" width="14.5" height="3.6" fill="#2b2b2b"/>
<rect x="1597.4" y="1965.7" width="14.5" height="3.6" fill="#2b2b2b"/>
<rect x="207.2" y="1796.7" width="14.5" height="3.6" fill="#2b2b2b"/>
<rect x="1597.4" y="1796.7" width="14.5" height="3.6" fill="#2b2b2b"/>
<text transform="translate(185,2833.3) scale(0.95,1.03)" text-anchor="end" font-family="'Liberation Sans', Arial, Helvetica, sans-serif" font-size="62" fill="#262626" stroke="#fff" stroke-width="0.9">2</text>
<text transform="translate(185,2664.3) scale(0.95,1.03)" text-anchor="end" font-family="'Liberation Sans', Arial, Helvetica, sans-serif" font-size="62" fill="#262626" stroke="#fff" stroke-width="0.9">3</text>
<text transform="translate(185,2495.3) scale(0.95,1.03)" text-anchor="end" font-family="'Liberation Sans', Arial, Helvetica, sans-serif" font-size="62" fill="#262626" stroke="#fff" stroke-width="0.9">4</text>
<text transform="translate(185,2326.3) scale(0.95,1.03)" text-anchor="end" font-family="'Liberation Sans', Arial, Helvetica, sans-serif" font-size="62" fill="#262626" stroke="#fff" stroke-width="0.9">5</text>
<text transform="translate(185,2157.3) scale(0.95,1.03)" text-anchor="end" font-family="'Liberation Sans', Arial, Helvetica, sans-serif" font-size="62" fill="#262626" stroke="#fff" stroke-width="0.9">6</text>
<text transform="translate(185,1988.3) scale(0.95,1.03)" text-anchor="end" font-family="'Liberation Sans', Arial, Helvetica, sans-serif" font-size="62" fill="#262626" stroke="#fff" stroke-width="0.9">7</text>
<text transform="translate(185,1819.3) scale(0.95,1.03)" text-anchor="end" font-family="'Liberation Sans', Arial, Helvetica, sans-serif" font-size="62" fill="#262626" stroke="#fff" stroke-width="0.9">8</text>
<text transform="translate(185,1650.3) scale(0.95,1.03)" text-anchor="end" font-family="'Liberation Sans', Arial, Helvetica, sans-serif" font-size="62" fill="#262626" stroke="#fff" stroke-width="0.9">9</text>
<text transform="translate(207.2,2896.3) scale(0.95,1.03)" text-anchor="middle" font-family="'Liberation Sans', Arial, Helvetica, sans-serif" font-size="62" fill="#262626" stroke="#fff" stroke-width="0.9">0</text>
<text transform="translate(462.6,2896.3) scale(0.95,1.03)" text-anchor="middle" font-family="'Liberation Sans', Arial, Helvetica, sans-serif" font-size="62" fill="#262626" stroke="#fff" stroke-width="0.9">4</text>
<text transform="translate(718,2896.3) scale(0.95,1.03)" text-anchor="middle" font-family="'Liberation Sans', Arial, Helvetica, sans-serif" font-size="62" fill="#262626" stroke="#fff" stroke-width="0.9">8</text>
<text transform="translate(973.4,2896.3) scale(0.95,1.03)" text-anchor="middle" font-family="'Liberation Sans', Arial, Helvetica, sans-serif" font-size="62" fill="#262626" stroke="#fff" stroke-width="0.9">12</text>
<text transform="translate(1228.8,2896.3) scale(0.95,1.03)" text-anchor="middle" font-family="'Liberation Sans', Arial, Helvetica, sans-serif" font-size="62" fill="#262626" stroke="#fff" stroke-width="0.9">16</text>
<text transform="translate(1484.2,2896.3) scale(0.95,1.03)" text-anchor="middle" font-family="'Liberation Sans', Arial, Helvetica, sans-serif" font-size="62" fill="#262626" stroke="#fff" stroke-width="0.9">20</text>
<text transform="translate(911,2977)" text-anchor="middle" font-family="'Liberation Serif', 'Times New Roman', serif" font-size="73" fill="#262626" stroke="#fff" stroke-width="0.9">h (μm)</text>
<text transform="translate(116.7,2215.6) rotate(-90)" text-anchor="middle" font-family="'Liberation Serif', 'Times New Roman', serif" font-size="72" fill="#262626" stroke="#fff" stroke-width="0.9">βmax</text>
<rect x="1136" y="1659" width="454" height="511" fill="#fff" stroke="#909090" stroke-width="6"/>
<line x1="1171" y1="1703.4" x2="1361" y2="1703.4" stroke="#77AC30" stroke-width="3" opacity="0.9"/>
<path d="M1247.5,1691.1 L1288.5,1691.1 L1268,1726.9 Z" fill="none" stroke="#77AC30" stroke-width="3"/>
<text transform="translate(1378.5,1723.4)" text-anchor="start" font-family="'Liberation Sans', Arial, Helvetica, sans-serif" font-size="54" fill="#1e1e1e" stroke="#fff" stroke-width="0.7">0.50 μm</text>
<line x1="1171" y1="1773.7" x2="1361" y2="1773.7" stroke="#4DBEEE" stroke-width="5.5" opacity="0.6"/>
<circle cx="1268" cy="1773.7" r="17.5" fill="none" stroke="#4DBEEE" stroke-width="3"/>
<text transform="translate(1378.5,1793.7)" text-anchor="start" font-family="'Liberation Sans', Arial, Helvetica, sans-serif" font-size="54" fill="#1e1e1e" stroke="#fff" stroke-width="0.7">0.75 μm</text>
<line x1="1171" y1="1844" x2="1361" y2="1844" stroke="#A2142F" stroke-width="3" opacity="0.9"/>
<path d="M1268,1825 V1863 M1249,1844 H1287 M1254.3,1830.3 L1281.7,1857.7 M1254.3,1857.7 L1281.7,1830.3" stroke="#A2142F" stroke-width="3" fill="none"/>
<text transform="translate(1378.5,1864)" text-anchor="start" font-family="'Liberation Sans', Arial, Helvetica, sans-serif" font-size="54" fill="#1e1e1e" stroke="#fff" stroke-width="0.7">1.00 μm</text>
<line x1="1171" y1="1914.3" x2="1361" y2="1914.3" stroke="#0072BD" stroke-width="6" opacity="0.6"/>
<path d="M1252.5,1898.8 L1283.5,1929.8 M1252.5,1929.8 L1283.5,1898.8" stroke="#0072BD" stroke-width="3" fill="none"/>
<text transform="translate(1378.5,1934.3)" text-anchor="start" font-family="'Liberation Sans', Arial, Helvetica, sans-serif" font-size="54" fill="#1e1e1e" stroke="#fff" stroke-width="0.7">1.25 μm</text>
<line x1="1171" y1="1984.6" x2="1361" y2="1984.6" stroke="#D95319" stroke-width="3" opacity="0.9"/>
<rect x="1253.5" y="1970.6" width="29" height="28" fill="none" stroke="#D95319" stroke-width="3"/>
<text transform="translate(1378.5,2004.6)" text-anchor="start" font-family="'Liberation Sans', Arial, Helvetica, sans-serif" font-size="54" fill="#1e1e1e" stroke="#fff" stroke-width="0.7">1.50 μm</text>
<line x1="1171" y1="2054.9" x2="1361" y2="2054.9" stroke="#EDB120" stroke-width="5.5" opacity="0.6"/>
<polygon points="1268,2038.9 1272.2,2050.6 1284.6,2051 1274.8,2058.6 1278.3,2070.6 1268,2063.6 1257.7,2070.6 1261.2,2058.6 1251.4,2051 1263.8,2050.6" fill="none" stroke="#EDB120" stroke-width="3"/>
<text transform="translate(1378.5,2074.9)" text-anchor="start" font-family="'Liberation Sans', Arial, Helvetica, sans-serif" font-size="54" fill="#1e1e1e" stroke="#fff" stroke-width="0.7">1.75 μm</text>
<line x1="1171" y1="2125.2" x2="1361" y2="2125.2" stroke="#7E2F8E" stroke-width="3" opacity="0.9"/>
<path d="M1268,2102.2 L1286,2125.2 L1268,2148.2 L1250,2125.2 Z" fill="none" stroke="#7E2F8E" stroke-width="3"/>
<text transform="translate(1378.5,2145.2)" text-anchor="start" font-family="'Liberation Sans', Arial, Helvetica, sans-serif" font-size="54" fill="#1e1e1e" stroke="#fff" stroke-width="0.7">2.00 μm</text>
<text x="863" y="3098.4" text-anchor="middle" font-family="'Liberation Serif', 'Times New Roman', serif" font-size="85.5" fill="#000"><tspan stroke="#fff" stroke-width="2.6">(</tspan><tspan font-weight="bold">b</tspan><tspan stroke="#fff" stroke-width="2.6">)</tspan></text>
</svg>
</body></html>
